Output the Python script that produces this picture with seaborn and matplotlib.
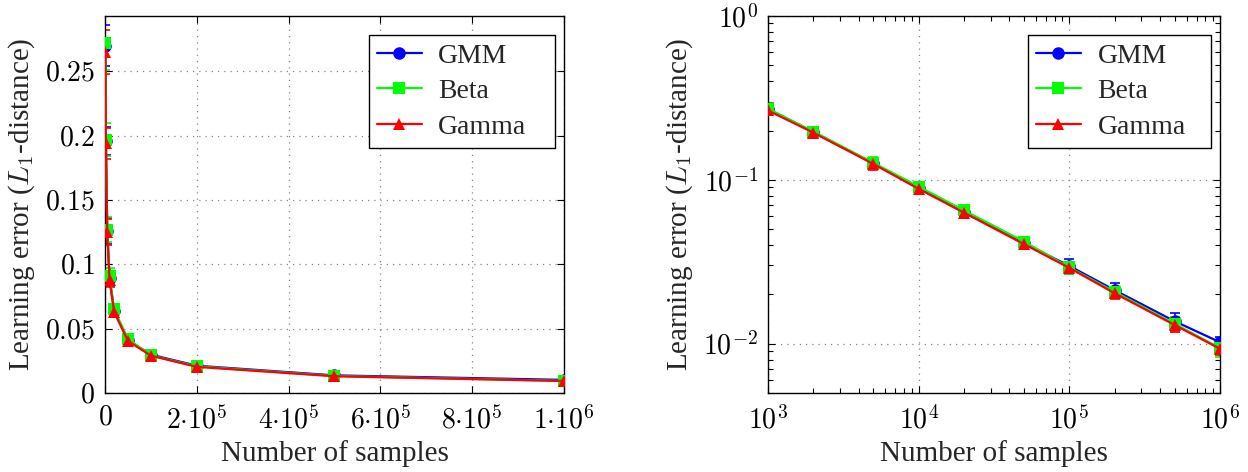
import numpy as np
import pandas as pd
import matplotlib
matplotlib.use("Agg")
import matplotlib.pyplot as plt
import seaborn as sns

# Sample sizes and mean learning error (L1 distance) with standard deviations
samples = [1e3, 2e3, 5e3, 1e4, 2e4, 5e4, 1e5, 2e5, 5e5, 1e6]
methods = ["GMM", "Beta", "Gamma"]

gmm_err_mean = [0.270, 0.196, 0.126, 0.089, 0.064, 0.041, 0.0298, 0.0212, 0.0137, 0.0102]
beta_err_mean = [0.272, 0.197, 0.127, 0.091, 0.065, 0.042, 0.0292, 0.0207, 0.0132, 0.0094]
gamma_err_mean = [0.265, 0.194, 0.125, 0.088, 0.063, 0.0405, 0.0290, 0.0203, 0.0130, 0.0093]

gmm_err_std = [0.016, 0.011, 0.010, 0.006, 0.003, 0.0015, 0.0033, 0.0021, 0.0017, 0.0008]
beta_err_std = [0.021, 0.013, 0.010, 0.006, 0.003, 0.0015, 0.0025, 0.0015, 0.0014, 0.0011]
gamma_err_std = [0.017, 0.012, 0.010, 0.006, 0.003, 0.0015, 0.0020, 0.0015, 0.0012, 0.0008]

left_xticks = [0, 2e5, 4e5, 6e5, 8e5, 1e6]
left_xticklabels = [r"$0$", r"$2{\cdot}10^{5}$", r"$4{\cdot}10^{5}$", r"$6{\cdot}10^{5}$",
                    r"$8{\cdot}10^{5}$", r"$1{\cdot}10^{6}$"]
left_yticks = [0, 0.05, 0.1, 0.15, 0.2, 0.25]
left_yticklabels = [r"$0$", r"$0.05$", r"$0.1$", r"$0.15$", r"$0.2$", r"$0.25$"]
right_xticks = [1e3, 1e4, 1e5, 1e6]
right_xticklabels = [r"$10^{3}$", r"$10^{4}$", r"$10^{5}$", r"$10^{6}$"]
right_yticks = [1e-2, 1e-1, 1e0]
right_yticklabels = [r"$10^{-2}$", r"$10^{-1}$", r"$10^{0}$"]

colors = {"GMM": "#0000ff", "Beta": "#00ff00", "Gamma": "#ff0000"}
markers = {"GMM": "o", "Beta": "s", "Gamma": "^"}

means = {"GMM": gmm_err_mean, "Beta": beta_err_mean, "Gamma": gamma_err_mean}
stds = {"GMM": gmm_err_std, "Beta": beta_err_std, "Gamma": gamma_err_std}

df = pd.concat([
    pd.DataFrame({"samples": samples, "error": means[m], "std": stds[m], "method": m})
    for m in methods
], ignore_index=True)

sns.set_style("ticks")
plt.rcParams["font.family"] = ["Liberation Serif", "DejaVu Serif"]
plt.rcParams["mathtext.fontset"] = "cm"
plt.rcParams["axes.linewidth"] = 1.0

fig = plt.figure(figsize=(12.48, 4.72), dpi=100)
ax_lin = fig.add_axes([0.0841, 0.1674, 0.3678, 0.7987])
ax_log = fig.add_axes([0.6154, 0.1674, 0.3622, 0.7987])

FS = 20

for ax in (ax_lin, ax_log):
    for m in methods:
        sub = df[df["method"] == m]
        ax.errorbar(sub["samples"], sub["error"], yerr=sub["std"], fmt="none",
                    ecolor=colors[m], elinewidth=1.2, capsize=3.5, capthick=1.2, zorder=2)
    sns.lineplot(data=df, x="samples", y="error", hue="method", style="method",
                 hue_order=methods, style_order=methods, palette=colors,
                 markers=markers, dashes=False, markersize=9, linewidth=1.6,
                 markeredgewidth=0, ax=ax, zorder=3, legend=True)
    ax.grid(True, which="major", linestyle=(0, (1, 4)), color="#888888", linewidth=0.9)
    ax.tick_params(direction="in", top=True, right=True, which="both",
                   labelsize=FS, colors="black")
    ax.tick_params(which="major", length=5)
    ax.tick_params(which="minor", length=3.5, width=0.8)
    ax.tick_params(axis="x", which="major", pad=9)
    ax.tick_params(axis="y", which="major", pad=7)
    for sp in ax.spines.values():
        sp.set_color("black")
        sp.set_linewidth(1.0)
    ax.set_xlabel("Number of samples", fontsize=FS + 1, labelpad=4)
    ax.set_ylabel(r"Learning error ($L_1$-distance)", fontsize=FS + 1, labelpad=6)
    handles, labels = ax.get_legend_handles_labels()
    leg = ax.legend(handles=handles, labels=labels, loc="upper right",
                    bbox_to_anchor=(0.575, 0.5, 0.405, 0.45), mode="expand",
                    borderaxespad=0, fontsize=FS,
                    frameon=True, fancybox=False, edgecolor="black",
                    handlelength=1.6, handletextpad=0.6, labelspacing=0.36,
                    borderpad=0.3)
    leg.get_frame().set_linewidth(1.0)
    leg.get_frame().set_alpha(1)

ax_lin.set_xlim(0, 1e6)
ax_lin.set_ylim(0, 0.293)
ax_lin.set_xticks(left_xticks)
ax_lin.set_xticklabels(left_xticklabels)
ax_lin.set_yticks(left_yticks)
ax_lin.set_yticklabels(left_yticklabels)
ax_lin.xaxis.set_minor_locator(matplotlib.ticker.NullLocator())
ax_lin.yaxis.set_minor_locator(matplotlib.ticker.NullLocator())

ax_log.set_xscale("log")
ax_log.set_yscale("log")
ax_log.set_xlim(1e3, 1e6)
ax_log.set_ylim(0.005, 1)
ax_log.set_xticks(right_xticks)
ax_log.set_xticklabels(right_xticklabels)
ax_log.set_yticks(right_yticks)
ax_log.set_yticklabels(right_yticklabels)
ax_log.xaxis.set_minor_locator(matplotlib.ticker.LogLocator(base=10, subs=np.arange(2, 10)))
ax_log.yaxis.set_minor_locator(matplotlib.ticker.LogLocator(base=10, subs=np.arange(2, 10)))
ax_log.xaxis.set_minor_formatter(matplotlib.ticker.NullFormatter())
ax_log.yaxis.set_minor_formatter(matplotlib.ticker.NullFormatter())

fig.savefig("out.png", dpi=100)
